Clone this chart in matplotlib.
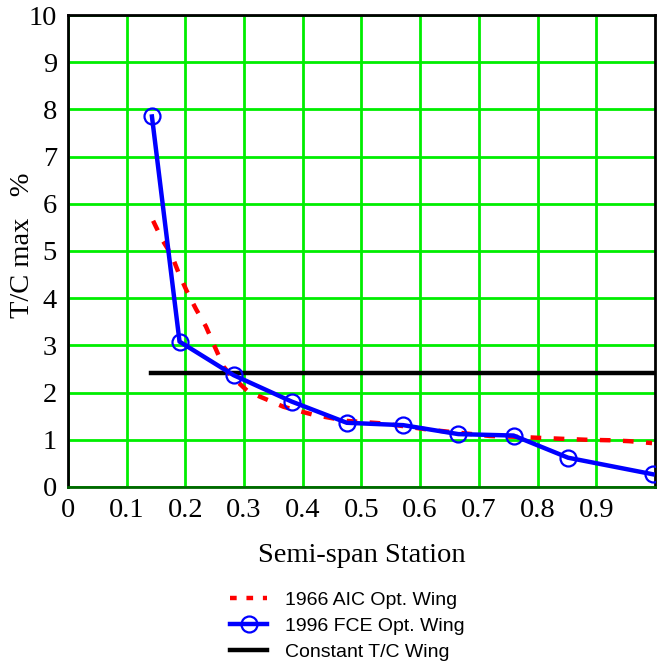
import matplotlib
matplotlib.use("Agg")
import matplotlib.pyplot as plt
from matplotlib.lines import Line2D

# station along semi-span, T/C max in percent
aic_x = [0.145, 0.160, 0.177, 0.188, 0.202, 0.218, 0.235, 0.248, 0.265, 0.279,
         0.307, 0.341, 0.367, 0.418, 0.475, 0.532, 0.571, 0.617, 0.673, 0.719,
         0.770, 0.804, 0.843, 0.884, 0.923, 0.957, 0.995]
aic_y = [5.64, 5.25, 4.90, 4.55, 4.16, 3.77, 3.40, 3.03, 2.55, 2.34,
         2.02, 1.84, 1.70, 1.53, 1.40, 1.35, 1.29, 1.21, 1.14, 1.08,
         1.06, 1.04, 1.02, 1.00, 0.99, 0.97, 0.93]

fce_x = [0.143, 0.190, 0.282, 0.381, 0.475, 0.571, 0.665, 0.759, 0.852, 0.996]
fce_y = [7.85, 3.08, 2.37, 1.81, 1.36, 1.31, 1.12, 1.09, 0.62, 0.27]

const_x = [0.141, 1.0]
const_y = [2.41, 2.41]

xticks = [0, 0.1, 0.2, 0.3, 0.4, 0.5, 0.6, 0.7, 0.8, 0.9]
xtick_labels = ["0", "0.1", "0.2", "0.3", "0.4", "0.5", "0.6", "0.7", "0.8", "0.9"]
yticks = list(range(0, 11))

serif = "Liberation Serif"
sans = "Liberation Sans"

fig = plt.figure(figsize=(6.68, 6.64), dpi=100)
ax = fig.add_axes([0.1018, 0.2666, 0.8787, 0.7108])

ax.set_xlim(0, 1.0)
ax.set_ylim(0, 10)
ax.grid(True, color="#00ee00", linewidth=2)
ax.set_axisbelow(True)

ax.plot(aic_x, aic_y, color="#ff0000", linewidth=3.2, linestyle=(0, (2.4, 2.8)),
        zorder=3)
ax.plot(fce_x, fce_y, color="#0000ff", linewidth=3.2, marker="o", markersize=11.5,
        markerfacecolor="none", markeredgecolor="#0000ff", markeredgewidth=1.6,
        zorder=4)
ax.plot(const_x, const_y, color="black", linewidth=3.2, zorder=2)

ax.set_xticks(xticks)
ax.set_xticklabels(xtick_labels, family=serif, fontsize=20.5)
ax.set_yticks(yticks)
ax.set_yticklabels([str(t) for t in yticks], family=serif, fontsize=20.5)
ax.tick_params(length=0, pad=8)

for side in ["left", "top", "right"]:
    ax.spines[side].set_linewidth(2)
    ax.spines[side].set_color("black")
ax.spines["bottom"].set_linewidth(2)
ax.spines["bottom"].set_color("#006600")

ax.set_xlabel("Semi-span Station", family=serif, fontsize=20.5, labelpad=14)
fig.text(0.034, 0.63, "T/C max   %", family=serif, fontsize=20.5,
         rotation=90, ha="center", va="center")

handles = [
    Line2D([], [], color="#ff0000", linewidth=3.2, linestyle=(0, (1.5, 2.2))),
    Line2D([], [], color="#0000ff", linewidth=3.2, marker="o", markersize=11.5,
           markerfacecolor="none", markeredgewidth=1.6),
    Line2D([], [], color="black", linewidth=3.2),
]
labels = ["1966 AIC Opt. Wing", "1996 FCE Opt. Wing", "Constant T/C Wing"]
fig.legend(handles, labels, loc="center", bbox_to_anchor=(0.52, 0.057),
           frameon=False, prop={"family": sans, "size": 14},
           handlelength=1.9, handletextpad=0.9, labelspacing=0.42)

fig.savefig("out.png", dpi=100)
